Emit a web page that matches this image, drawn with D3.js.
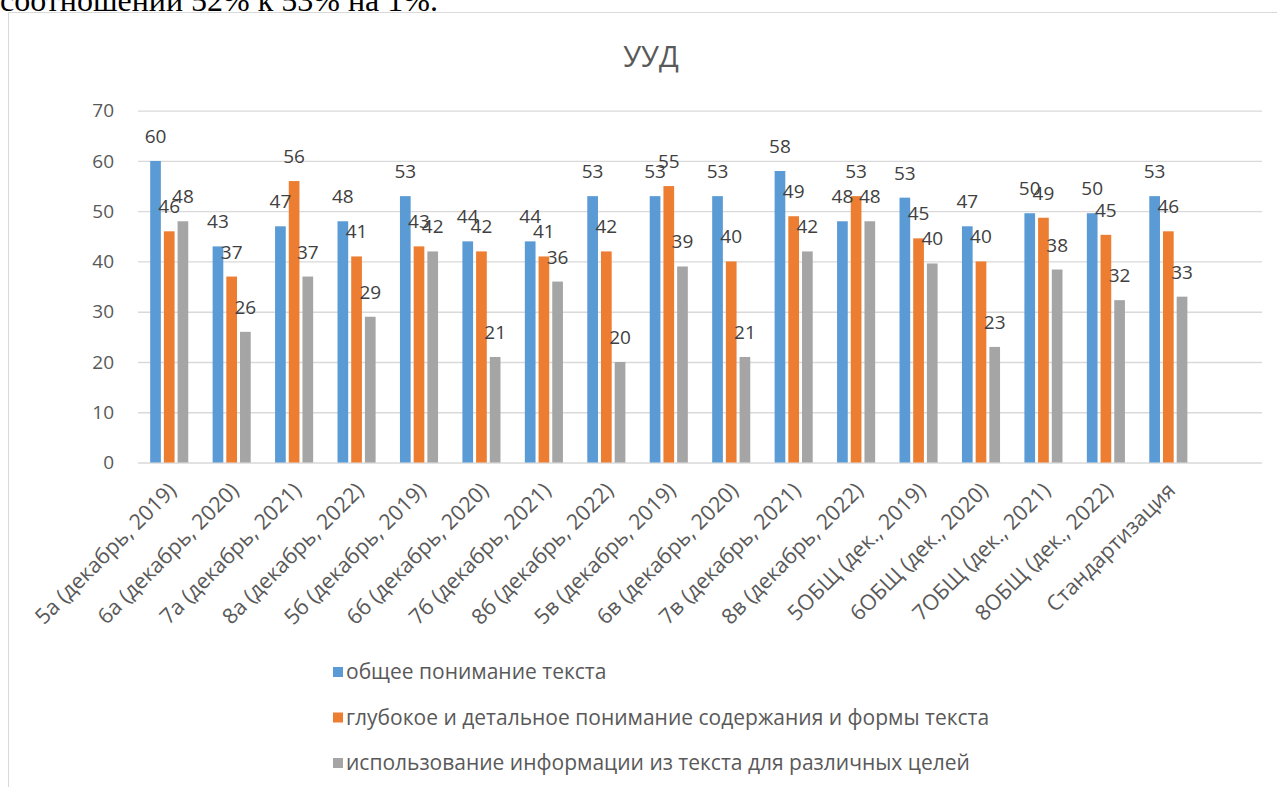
<!DOCTYPE html>
<html>
<head>
<meta charset="utf-8">
<script src="https://cdn.jsdelivr.net/npm/d3@7"></script>
<style>
  html, body { margin: 0; padding: 0; background: #fff; }
  svg { display: block; }
</style>
</head>
<body>
<svg id="chart" width="1277" height="787"></svg>
<script>
// categories (last one is an empty slot, as in the source chart)
const categories = [
  "5а (декабрь, 2019)", "6а (декабрь, 2020)", "7а (декабрь, 2021)", "8а (декабрь, 2022)",
  "5б (декабрь, 2019)", "6б (декабрь, 2020)", "7б (декабрь, 2021)", "8б (декабрь, 2022)",
  "5в (декабрь, 2019)", "6в (декабрь, 2020)", "7в (декабрь, 2021)", "8в (декабрь, 2022)",
  "5ОБЩ (дек., 2019)", "6ОБЩ (дек., 2020)", "7ОБЩ (дек., 2021)", "8ОБЩ (дек., 2022)",
  "Стандартизация", ""
];

const seriesNames = [
  "общее понимание текста",
  "глубокое и детальное понимание содержания и формы текста",
  "использование информации из текста для различных целей"
];

const generalValues = [60, 43, 47, 48, 53, 44, 44, 53, 53, 53, 58, 48, 52.7, 47, 49.6, 49.6, 53, null];
const deepValues    = [46, 37, 56, 41, 43, 42, 41, 42, 55, 40, 49, 53, 44.6, 40, 48.7, 45.3, 46, null];
const usageValues   = [48, 26, 37, 29, 42, 21, 36, 20, 39, 21, 42, 48, 39.6, 23, 38.4, 32.3, 33, null];

const yTicks = [0, 10, 20, 30, 40, 50, 60, 70];

const COLORS = ["#5b9bd5", "#ed7d31", "#a5a5a5"];
const TEXT = "#595959";
const GRID = "#d9d9d9";
const FONT = "'Open Sans', Lato, sans-serif";

const PLOT = { left: 138, right: 1262, top: 110.7, bottom: 462.5 };

const svg = d3.select("#chart");

// chart frame
svg.append("rect")
  .attr("x", 8.5).attr("y", 12.5)
  .attr("width", 1300).attr("height", 800)
  .attr("fill", "#fff")
  .attr("stroke", GRID).attr("stroke-width", 1);

// cut-off line of the surrounding document
svg.append("text")
  .attr("x", 0).attr("y", 11)
  .attr("font-family", "'Liberation Serif', 'Times New Roman', serif")
  .attr("font-size", 32)
  .attr("fill", "#000")
  .text("соотношений 52% к 53% на 1%.");

svg.append("text")
  .attr("x", 651).attr("y", 67)
  .attr("text-anchor", "middle")
  .attr("font-family", FONT)
  .attr("font-size", 29)
  .attr("fill", TEXT)
  .text("УУД");

const series = [generalValues, deepValues, usageValues];

const x0 = d3.scaleBand(categories, [PLOT.left, PLOT.right]).padding(0);
const bw = x0.bandwidth();
const x1 = d3.scaleBand([0, 1, 2], [bw * 0.195, bw * 0.805]).paddingInner(0.22);
const y = d3.scaleLinear([0, 70], [PLOT.bottom, PLOT.top]);

// grid + y labels
const yAxis = svg.append("g")
  .attr("transform", `translate(${PLOT.left},0)`)
  .call(d3.axisLeft(y).tickValues(yTicks).tickSize(-(PLOT.right - PLOT.left)).tickPadding(24));
yAxis.select(".domain").remove();
yAxis.selectAll(".tick line").attr("stroke", GRID).attr("stroke-width", 1.3);
yAxis.selectAll(".tick text")
  .attr("font-family", FONT).attr("font-size", 19).attr("fill", TEXT);

// bars
const groups = svg.append("g").selectAll("g")
  .data(categories)
  .join("g")
  .attr("transform", d => `translate(${x0(d)},0)`);

groups.selectAll("rect")
  .data((d, i) => series.map((s, k) => ({ k, v: s[i] })).filter(p => p.v != null))
  .join("rect")
  .attr("x", p => x1(p.k))
  .attr("width", x1.bandwidth())
  .attr("y", p => y(p.v))
  .attr("height", p => y(0) - y(p.v))
  .attr("fill", p => COLORS[p.k]);

// value labels
groups.selectAll("text")
  .data((d, i) => series.map((s, k) => ({ k, v: s[i] })).filter(p => p.v != null))
  .join("text")
  .attr("x", p => x1(p.k) + x1.bandwidth() / 2)
  .attr("y", p => y(p.v) - 18)
  .attr("text-anchor", "middle")
  .attr("font-family", FONT)
  .attr("font-size", 19)
  .attr("fill", "#404040")
  .text(p => d3.format(".0f")(p.v));

// category labels, rotated
svg.append("g").selectAll("text")
  .data(categories.filter(c => c !== ""))
  .join("text")
  .attr("transform", d => `translate(${x0(d) + bw / 2 + 3},${PLOT.bottom + 24}) rotate(-45)`)
  .attr("text-anchor", "end")
  .attr("dy", "0.35em")
  .attr("font-family", FONT)
  .attr("font-size", 21.5)
  .attr("fill", TEXT)
  .text(d => d);

// legend
const legend = svg.append("g").selectAll("g")
  .data(seriesNames)
  .join("g")
  .attr("transform", (d, i) => `translate(333,${672 + i * 45.5})`);

legend.append("rect")
  .attr("x", 0).attr("y", -5)
  .attr("width", 10).attr("height", 10)
  .attr("fill", (d, i) => COLORS[i]);

legend.append("text")
  .attr("x", 13).attr("dy", "0.35em")
  .attr("font-family", FONT)
  .attr("font-size", 21)
  .attr("fill", TEXT)
  .text(d => d);
</script>
</body>
</html>
